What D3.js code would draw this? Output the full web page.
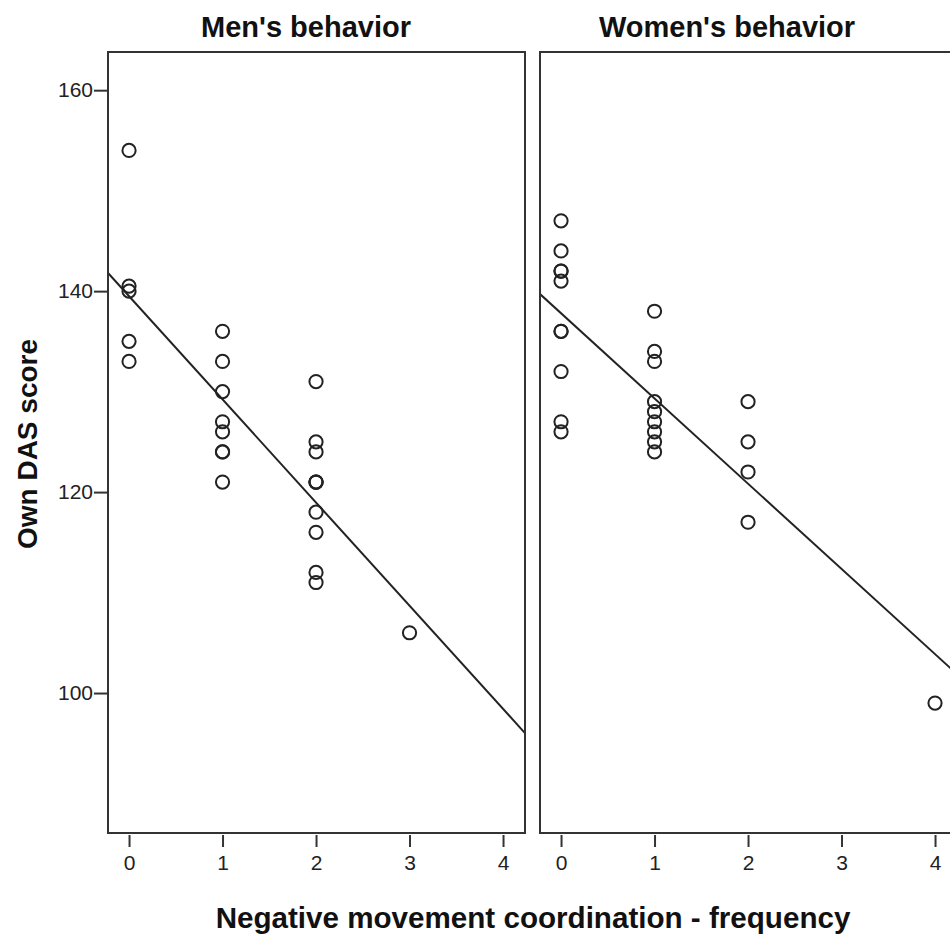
<!DOCTYPE html>
<html>
<head>
<meta charset="utf-8">
<script src="https://cdn.jsdelivr.net/npm/d3@7"></script>
<style>
  body { margin: 0; background: #fff; }
  svg { display: block; font-family: "Liberation Sans", Arial, sans-serif; }
  .frame { fill: none; stroke: #333; stroke-width: 2; }
  .tick line { stroke: #333; stroke-width: 2; }
  .tick text { font-size: 21px; fill: #222; }
  .pt { fill: none; stroke: #222; stroke-width: 2; }
  .fit { stroke: #222; stroke-width: 2; }
  .title { font-size: 29px; font-weight: bold; fill: #111; }
</style>
</head>
<body>
<div id="chart"></div>
<script>
// panel names
const panels = ["Men's behavior", "Women's behavior"];

// men: x = negative movement coordination frequency, y = own DAS score
const menX = [0, 0, 0, 0, 0,
  1, 1, 1, 1, 1, 1, 1, 1,
  2, 2, 2, 2, 2, 2, 2, 2, 2, 2,
  3];
const menY = [154, 140.5, 140, 135, 133,
  136, 133, 130, 127, 126, 124, 124, 121,
  131, 125, 124, 121, 121, 121, 118, 116, 112, 111,
  106];

// women
const womenX = [0, 0, 0, 0, 0, 0, 0, 0, 0, 0,
  1, 1, 1, 1, 1, 1, 1, 1, 1,
  2, 2, 2, 2,
  4];
const womenY = [147, 144, 142, 142, 141, 136, 136, 132, 127, 126,
  138, 134, 133, 129, 128, 127, 126, 125, 124,
  129, 125, 122, 117,
  99];

const xTicks = [0, 1, 2, 3, 4];
const yTicks = [100, 120, 140, 160];

const width = 950, height = 937;
const plotTop = 52, plotBottom = 833;
const panelW = 417;
const panelLeft = [108, 540];
const titleX = [198, 187];   // title centre, offset from panel left

const svg = d3.select("#chart").append("svg")
    .attr("width", width)
    .attr("height", height);

const yScale = d3.scaleLinear()
    .domain([86.07, 163.8])
    .range([plotBottom, plotTop]);

function fitLine(xs, ys) {
  const mx = d3.mean(xs), my = d3.mean(ys);
  let sxy = 0, sxx = 0;
  xs.forEach((x, i) => { sxy += (x - mx) * (ys[i] - my); sxx += (x - mx) * (x - mx); });
  const b = sxy / sxx;
  return { a: my - b * mx, b: b };
}

const series = [[menX, menY], [womenX, womenY]];

panels.forEach((name, p) => {
  const left = panelLeft[p];
  const xScale = d3.scaleLinear()
      .domain([-0.225, 4.235])
      .range([left, left + panelW]);

  const g = svg.append("g");

  const clipId = "clip" + p;
  svg.append("clipPath").attr("id", clipId)
    .append("rect")
      .attr("x", left).attr("y", plotTop)
      .attr("width", panelW).attr("height", plotBottom - plotTop);

  // x axis
  const xAxis = d3.axisBottom(xScale)
      .tickValues(xTicks)
      .tickFormat(d3.format("d"))
      .tickSize(12)
      .tickPadding(8);
  g.append("g")
      .attr("transform", "translate(0," + (plotBottom + 2) + ")")
      .call(xAxis)
      .call(s => s.select(".domain").remove());

  // y axis on first panel only
  if (p === 0) {
    const yAxis = d3.axisLeft(yScale)
        .tickValues(yTicks)
        .tickSize(14)
        .tickPadding(1);
    g.append("g")
        .attr("transform", "translate(" + left + ",0)")
        .call(yAxis)
        .call(s => s.select(".domain").remove());
  }

  // fit line
  const xs = series[p][0], ys = series[p][1];
  const f = fitLine(xs, ys);
  const xd = xScale.domain();
  g.append("line")
      .attr("class", "fit")
      .attr("clip-path", "url(#" + clipId + ")")
      .attr("x1", xScale(xd[0])).attr("y1", yScale(f.a + f.b * xd[0]))
      .attr("x2", xScale(xd[1])).attr("y2", yScale(f.a + f.b * xd[1]));

  // points
  g.selectAll(".pt")
    .data(xs.map((x, i) => ({ x: x, y: ys[i] })))
    .enter().append("circle")
      .attr("class", "pt")
      .attr("cx", d => xScale(d.x))
      .attr("cy", d => yScale(d.y))
      .attr("r", 6.6);

  // frame
  g.append("rect")
      .attr("class", "frame")
      .attr("x", left).attr("y", plotTop)
      .attr("width", panelW).attr("height", plotBottom - plotTop);

  // panel title
  svg.append("text")
      .attr("class", "title")
      .attr("x", left + titleX[p])
      .attr("y", 37)
      .attr("text-anchor", "middle")
      .text(name);
});

// axis titles
svg.append("text")
    .attr("class", "title")
    .attr("x", 533)
    .attr("y", 928)
    .attr("text-anchor", "middle")
    .style("font-size", "29.6px")
    .text("Negative movement coordination - frequency");

svg.append("text")
    .attr("class", "title")
    .attr("transform", "translate(37,444) rotate(-90)")
    .attr("text-anchor", "middle")
    .style("font-size", "28px")
    .text("Own DAS score");
</script>
</body>
</html>
